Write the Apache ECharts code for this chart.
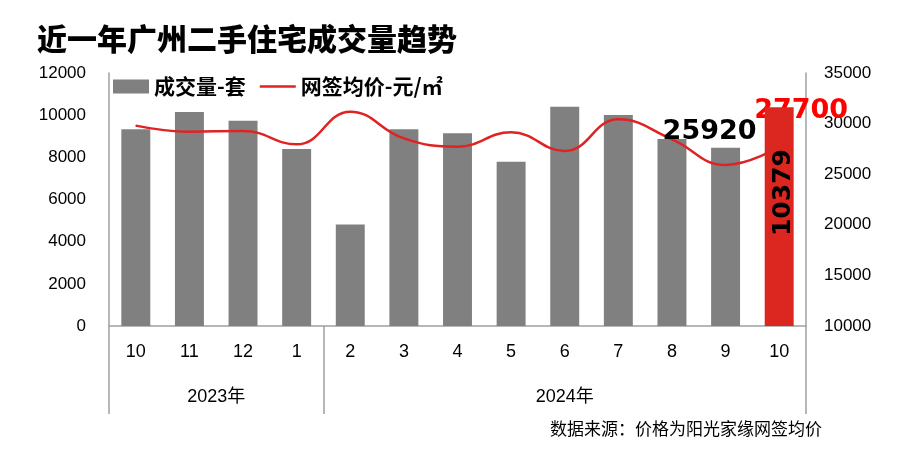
<!DOCTYPE html>
<html>
<head>
<meta charset="utf-8">
<script src="https://cdn.jsdelivr.net/npm/echarts@6/dist/echarts.min.js"></script>
<style>
  html, body { margin: 0; padding: 0; background: #fff; }
  #chart { width: 901px; height: 474px; }
</style>
</head>
<body>
<div id="chart"></div>
<script>
// data
const months = ['10', '11', '12', '1', '2', '3', '4', '5', '6', '7', '8', '9', '10'];
const volume = [9330, 10150, 9740, 8400, 4820, 9330, 9140, 7790, 10400, 10010, 8870, 8460, 10379];
const price = [29800, 29200, 29270, 27950, 31180, 28540, 27720, 29140, 27290, 30420, 28450, 25920, 27700];
const years = ['2023年', '2024年'];
const yearSpans = [4, 9];
const volumeTicks = [0, 12000, 2000];
const priceTicks = [10000, 35000, 5000];

const last = months.length - 1;
const font = "'Liberation Sans', 'Noto Sans CJK SC', sans-serif";
const cjk = "'Noto Sans CJK SC', sans-serif";
const boldNum = "'DejaVu Sans', sans-serif";

// year group boundaries and label centres on a 0..13 value axis
const bounds = [0];
yearSpans.forEach(s => bounds.push(bounds[bounds.length - 1] + s));
const yearCentres = yearSpans.map((s, i) => bounds[i] + s / 2);

const grayData = volume.map((v, i) => (i === last ? null : v));
const redData = volume.map((v, i) => (i === last ? v : null));
const priceData = price.map((v, i) => {
  if (i === last - 1) {
    return { value: v, label: { show: true, color: '#000', offset: [-16, -14] } };
  }
  if (i === last) {
    return { value: v, label: { show: true, color: '#ff0000', offset: [22, -17] } };
  }
  return v;
});

const chart = echarts.init(document.getElementById('chart'));

chart.setOption({
  animation: false,
  textStyle: { fontFamily: font },
  title: [
    {
      text: '近一年广州二手住宅成交量趋势',
      left: 37, top: 24, padding: 0,
      textStyle: { fontFamily: cjk, fontSize: 30, fontWeight: 900, color: '#000' }
    },
    {
      text: '数据来源：价格为阳光家缘网签均价',
      right: 79, top: 420, padding: 0,
      textStyle: { fontFamily: cjk, fontSize: 17, fontWeight: 'normal', color: '#000' }
    }
  ],
  legend: {
    left: 113, top: 76, padding: 0,
    itemWidth: 36, itemHeight: 14, itemGap: 14,
    textStyle: { fontFamily: cjk, fontSize: 21, fontWeight: 'bold', color: '#000' },
    data: [
      { name: '成交量-套', icon: 'rect' },
      { name: '网签均价-元/㎡', icon: 'path://M0,0 L36,0 L36,2.5 L0,2.5 Z' }
    ]
  },
  grid: { left: 109, right: 95, top: 73, bottom: 148 },
  xAxis: [
    {
      type: 'category',
      data: months,
      axisLine: { lineStyle: { color: '#a0a0a0', width: 1.5 } },
      axisTick: { show: false },
      axisLabel: { color: '#000', fontSize: 18, margin: 17 }
    },
    {
      type: 'value',
      min: 0, max: months.length,
      position: 'bottom',
      splitLine: { show: false },
      axisLine: { show: false },
      axisTick: {
        show: true, length: 88,
        customValues: bounds,
        lineStyle: { color: '#a0a0a0', width: 1.5 }
      },
      axisLabel: {
        color: '#000', fontSize: 18, margin: 62,
        customValues: yearCentres,
        formatter: v => years[yearCentres.indexOf(v)] || ''
      }
    }
  ],
  yAxis: [
    {
      type: 'value',
      min: volumeTicks[0], max: volumeTicks[1], interval: volumeTicks[2],
      splitLine: { show: false },
      axisLine: { show: true, lineStyle: { color: '#a0a0a0', width: 1.5 } },
      axisTick: { show: false },
      axisLabel: { color: '#000', fontSize: 17, margin: 23, formatter: v => String(v) }
    },
    {
      type: 'value',
      min: priceTicks[0], max: priceTicks[1], interval: priceTicks[2],
      splitLine: { show: false },
      axisLine: { show: true, lineStyle: { color: '#a0a0a0', width: 1.5 } },
      axisTick: { show: false },
      axisLabel: { color: '#000', fontSize: 17, margin: 18, formatter: v => String(v) }
    }
  ],
  series: [
    {
      name: '成交量-套',
      type: 'bar',
      data: grayData,
      barWidth: '54%',
      itemStyle: { color: '#808080' },
      z: 2
    },
    {
      name: '网签均价-元/㎡',
      type: 'line',
      yAxisIndex: 1,
      data: priceData,
      smooth: 0.45,
      symbol: 'circle',
      symbolSize: 1,
      showSymbol: true,
      lineStyle: { color: '#e02222', width: 2.5 },
      itemStyle: { color: '#e02222' },
      label: {
        show: false, position: 'top',
        fontFamily: boldNum,
        fontSize: 27, fontWeight: 'bold'
      },
      z: 3
    },
    {
      name: '当月',
      type: 'bar',
      data: redData,
      barWidth: '54%',
      barGap: '-100%',
      itemStyle: { color: '#dc2620' },
      label: {
        show: true, position: 'inside', rotate: 90,
        offset: [24, 4],
        fontFamily: boldNum,
        fontSize: 25, fontWeight: 'bold', color: '#000'
      },
      z: 4
    }
  ]
});
</script>
</body>
</html>
